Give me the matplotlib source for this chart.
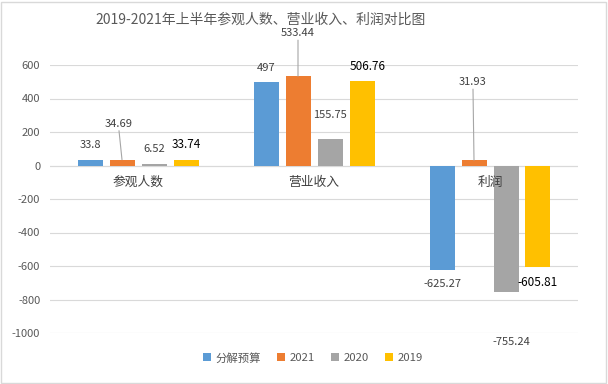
import numpy as np
import matplotlib
matplotlib.use("Agg")
import matplotlib.pyplot as plt
from matplotlib.patches import Rectangle

plt.rcParams['font.family'] = ['Noto Sans CJK SC', 'DejaVu Sans']

# data
categories = ['参观人数', '营业收入', '利润']
series_names = ['分解预算', '2021', '2020', '2019']
budget = [33.8, 497, -625.27]
y2021 = [34.69, 533.44, 31.93]
y2020 = [6.52, 155.75, -755.24]
y2019 = [33.74, 506.76, -605.81]
yticks = [-1000, -800, -600, -400, -200, 0, 200, 400, 600]

colors = ['#5B9BD5', '#ED7D31', '#A5A5A5', '#FFC000']
all_series = [budget, y2021, y2020, y2019]

# label offsets in pixels (dx, dy) for each series/category, leader flags
offsets = [
    [(0, 15), (0, 14), (0, -14)],
    [(-3, 36), (0, 43), (-1, 78)],
    [(0, 15), (0, 24), (5, -50)],
    [(0, 15), (6, 14), (0, -16)],
]
leaders = [
    [False, False, False],
    [True, True, True],
    [False, False, False],
    [False, False, False],
]

fig = plt.figure(figsize=(6.08, 3.84), dpi=100)
ax = fig.add_axes([50 / 608, 1 - 333 / 384, 528 / 608, 268 / 384])

x = np.arange(len(categories))
width = 25 / 176
step = 32 / 176

for i, (vals, c, name) in enumerate(zip(all_series, colors, series_names)):
    pos = x + (i - 1.5) * step
    ax.bar(pos, vals, width=width, color=c, label=name, zorder=3, linewidth=0)
    for j, (px, v) in enumerate(zip(pos, vals)):
        dx, dy = offsets[i][j]
        if i == 3:
            kw = dict(color='#000000', fontsize=8.5)
        else:
            kw = dict(color='#404040', fontsize=8)
        ax.annotate(f'{v:g}', xy=(px, v), xytext=(dx, dy), textcoords='offset pixels',
                    ha='center', va='center', annotation_clip=False, **kw)
        if leaders[i][j]:
            ax.annotate('', xy=(px, v), xytext=(dx, dy - 7), textcoords='offset pixels',
                        xycoords='data', annotation_clip=False,
                        arrowprops=dict(arrowstyle='-', color='#A6A6A6', lw=0.8,
                                        shrinkA=0, shrinkB=0))

for xi, cat in zip(x, categories):
    ax.annotate(cat, xy=(xi, 0), xytext=(0, -17), textcoords='offset pixels',
                ha='center', va='center', fontsize=9.2, color='#404040')

ax.set_xlim(-0.5, len(categories) - 0.5)
ax.set_ylim(-1000, 600)
ax.set_yticks(yticks)
ax.set_yticklabels([str(t) for t in yticks])
ax.tick_params(axis='y', length=0, pad=7, labelsize=8, labelcolor='#595959')
ax.set_xticks([])
ax.grid(axis='y', color='#D9D9D9', lw=0.8, zorder=0)
ax.axhline(0, color='#D9D9D9', lw=0.8, zorder=1)
for s in ax.spines.values():
    s.set_visible(False)

fig.text(261 / 608, 1 - 20 / 384, '2019-2021年上半年参观人数、营业收入、利润对比图',
         ha='center', va='center', fontsize=10, color='#595959')

leg = fig.legend(loc='center', bbox_to_anchor=(313 / 608, 1 - 358 / 384), ncol=4,
                 frameon=False, fontsize=8.2, handlelength=0.7, handleheight=0.7,
                 handletextpad=0.4, columnspacing=1.4)
for t in leg.get_texts():
    t.set_color('#595959')

fig.patches.append(Rectangle((0.002, 0.003), 0.995, 0.993, transform=fig.transFigure,
                             fill=False, edgecolor='#D9D9D9', lw=1))

fig.savefig('out.png', dpi=100)
